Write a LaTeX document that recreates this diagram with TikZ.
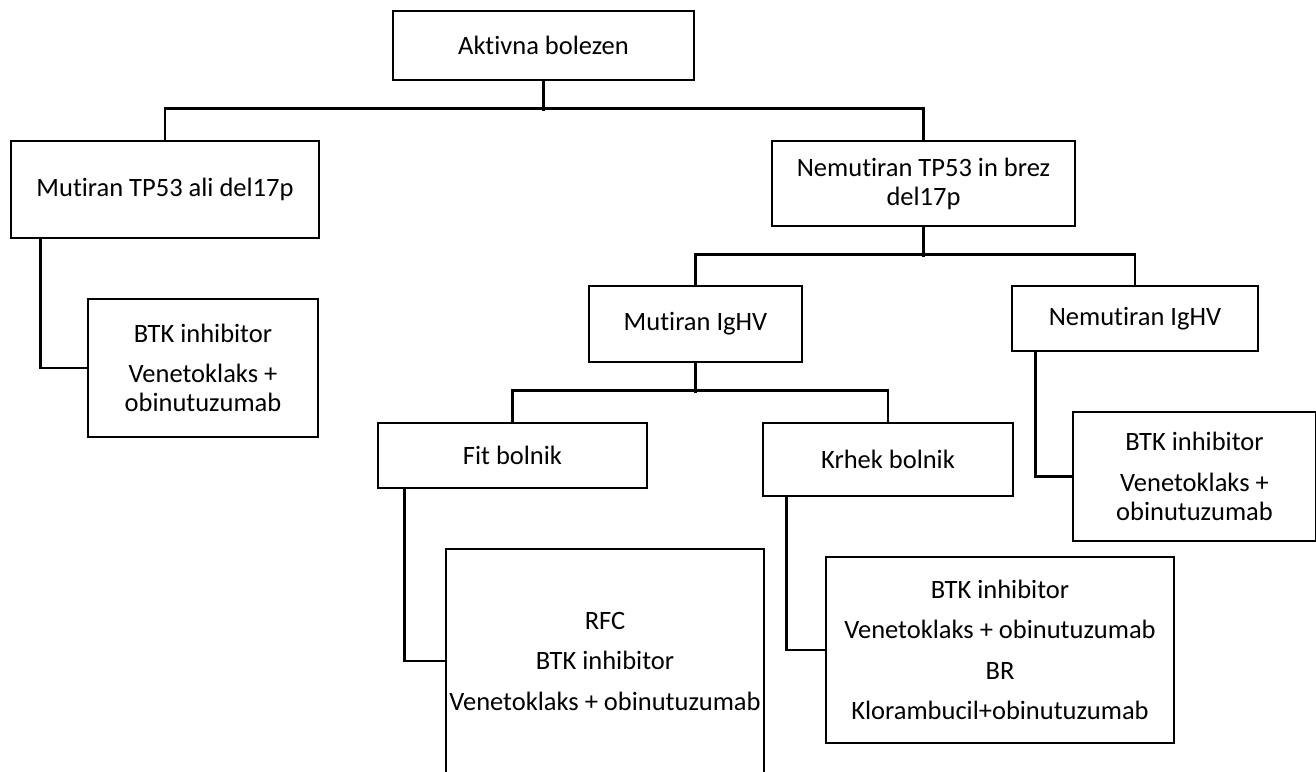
\documentclass[tikz,border=0pt]{standalone}
\usepackage{fontspec}
\setmainfont{Carlito}[Ligatures=NoCommon]
\begin{document}
\begin{tikzpicture}[x=1pt,y=-1pt,
  box/.style={draw, line width=2.6pt, rectangle, inner sep=0pt, align=center,
    font=\fontsize{26.5pt}{29pt}\selectfont},
  link/.style={line width=2.6pt}]
\useasboundingbox (0,0) rectangle (1316,771);
\fill[white] (0,0) rectangle (1316,771);
\clip (0,0) rectangle (1316,771);

% decision boxes
\node[box, minimum width=301pt, minimum height=69pt] (akt) at (543.5,45.5) {Aktivna bolezen};
\node[box, minimum width=308pt, minimum height=97pt] (mut) at (165,189.5) {Mutiran TP53 ali del17p};
\node[box, minimum width=303pt, minimum height=85pt] (nem) at (923.5,183.5) {Nemutiran TP53 in brez\\del17p};
\node[box, minimum width=213pt, minimum height=76pt] (migh) at (695.5,324) {Mutiran IgHV};
\node[box, minimum width=246pt, minimum height=65pt] (nigh) at (1135,318.5) {Nemutiran IgHV};
\node[box, minimum width=269pt, minimum height=65pt] (fit) at (512.5,455.5) {Fit bolnik};
\node[box, minimum width=250pt, minimum height=73pt] (krh) at (888,459.5) {Krhek bolnik};

% treatment boxes
\node[box, minimum width=230pt, minimum height=138pt] (btk1) at (203,368)
  {BTK inhibitor\\[11.5pt]Venetoklaks +\\obinutuzumab};
\node[box, minimum width=243pt, minimum height=129pt] (btk3) at (1194.5,476.5)
  {BTK inhibitor\\[11.5pt]Venetoklaks +\\obinutuzumab};
\node[box, minimum width=318pt, minimum height=224pt] (fitres) at (605,661)
  {RFC\\[11.5pt]BTK inhibitor\\[11.5pt]Venetoklaks + obinutuzumab};
\node[box, minimum width=348pt, minimum height=186pt] (krhres) at (1000,650)
  {BTK inhibitor\\[11.5pt]Venetoklaks + obinutuzumab\\[11.5pt]BR\\[11.5pt]Klorambucil+obinutuzumab};

% tree connectors
\draw[link] (akt.south) -- ++(0,30);
\draw[link] (mut.north) -- ++(0,-31) -| (nem.north);
\draw[link] (nem.south) -- ++(0,30);
\draw[link] (migh.north) -- ++(0,-30) -| (nigh.north);
\draw[link] (migh.south) -- ++(0,30);
\draw[link] (fit.north) -- ++(0,-31) -| (krh.north);

% side connectors to treatments
\draw[link] ([xshift=31pt]mut.south west) |- (btk1.west);
\draw[link] ([xshift=25pt]nigh.south west) |- (btk3.west);
\draw[link] ([xshift=28pt]fit.south west) |- (fitres.west);
\draw[link] ([xshift=25pt]krh.south west) |- (krhres.west);
\end{tikzpicture}
\end{document}
